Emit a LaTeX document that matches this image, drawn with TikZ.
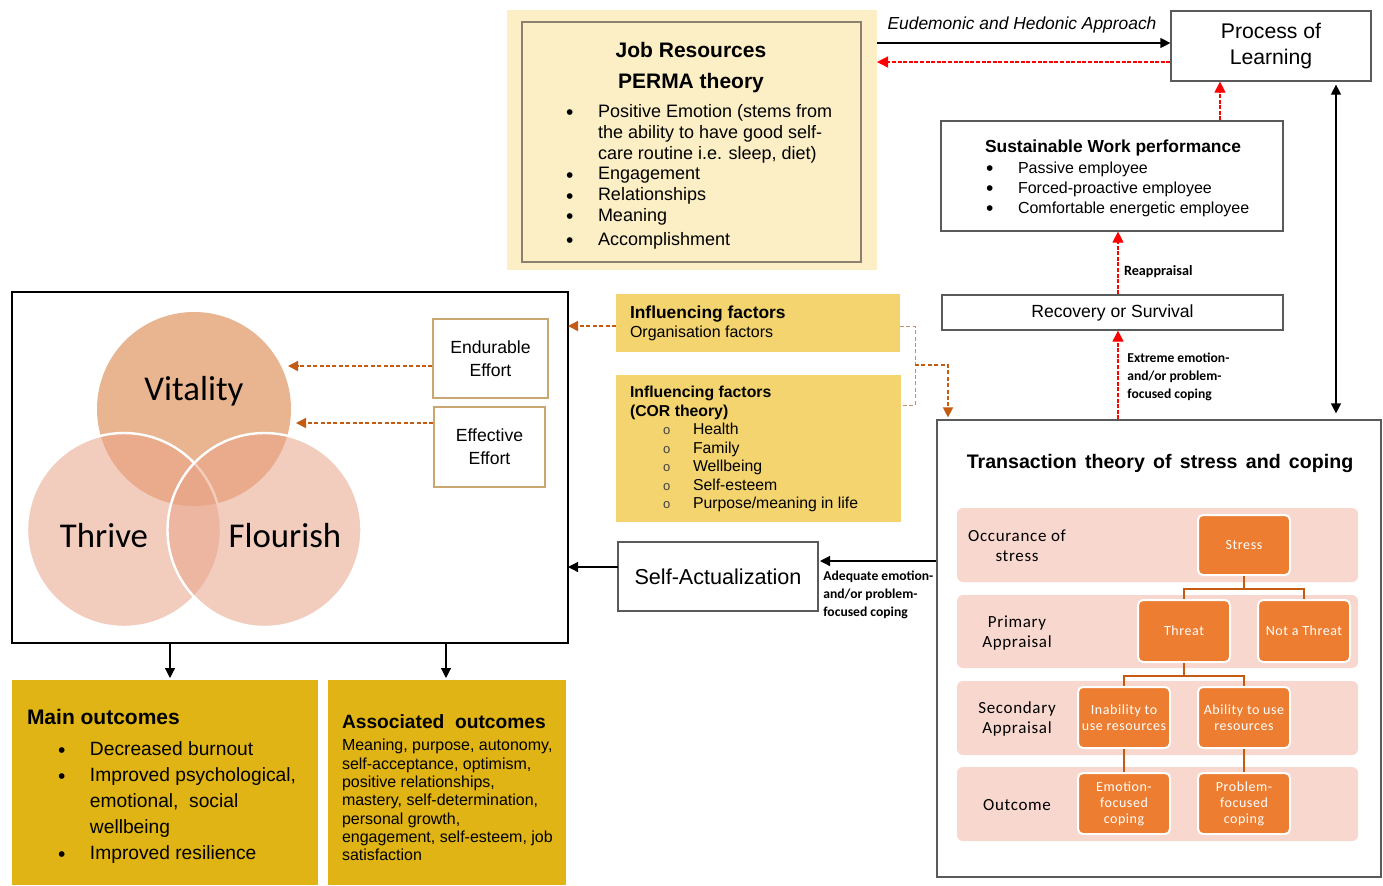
\documentclass[tikz,border=0pt]{standalone}
\usepackage{fontspec}
\setmainfont{Liberation Sans}
\newfontfamily\calib{Carlito}
\newfontfamily\calibsp{Carlito}[LetterSpace=4]
\usetikzlibrary{arrows.meta}
\definecolor{jobfill}{HTML}{FCEFC6}
\definecolor{jobline}{HTML}{8C8070}
\definecolor{gold}{HTML}{F3D46F}
\definecolor{mustard}{HTML}{E0B414}
\definecolor{orng}{HTML}{ED7D31}
\definecolor{pinkrow}{HTML}{F8D8CE}
\definecolor{brn}{HTML}{C55A11}
\definecolor{brlight}{HTML}{C98E6A}
\definecolor{vitc}{HTML}{E9B590}
\definecolor{lowc}{HTML}{E9A48A}
\definecolor{effline}{HTML}{C8A870}
\definecolor{boxgrey}{HTML}{5A5A5A}
\definecolor{redarrow}{HTML}{FF0000}
\newcommand{\bul}{\smash{\raisebox{-1.2pt}{\fontsize{10.5}{10}\selectfont •}}}
\newcommand{\hol}{\hspace*{16.5pt}{\color{black!75}\fontsize{6.5}{6.5}\selectfont o}}
\newcommand{\wsp}{\ \hspace{1.4pt}}
\begin{document}
\begin{tikzpicture}[x=0.5pt,y=-0.5pt,
  box/.style={draw=boxgrey, line width=0.6pt, inner sep=0, fill=white},
  plain/.style={inner sep=0, outer sep=0},
  txt/.style={inner sep=0, outer sep=0},
  blkarr/.style={-{Triangle[length=5pt,width=5pt]}, line width=0.6pt},
  dblarr/.style={{Triangle[length=5pt,width=5pt]}-{Triangle[length=5pt,width=5pt]}, line width=0.6pt},
  redarr/.style={draw=redarrow, dash pattern=on 2pt off 0.8pt, -{Triangle[length=5.5pt,width=5.5pt]}, line width=0.6pt},
  brnarr/.style={draw=brn, dash pattern=on 2pt off 1.2pt, -{Triangle[length=5pt,width=5pt]}, line width=0.7pt},
  brnline/.style={draw=brlight, dash pattern=on 2pt off 1.2pt, line width=0.5pt},
  rowbox/.style={fill=pinkrow, rounded corners=3pt, minimum width=200.5pt, inner sep=0},
  obox/.style={fill=orng, draw=white, line width=1pt, rounded corners=2.5pt, minimum width=46pt, inner sep=0, text=white, align=center, font=\calibsp\fontsize{7}{8}\selectfont},
  rowlab/.style={inner sep=0, align=center, font=\calibsp\fontsize{8.5}{10}\selectfont},
  tree/.style={draw=brn, line width=1.2pt},
  circ/.style={circle, minimum size=97pt, inner sep=0},
  lowcirc/.style={circ, fill=lowc, fill opacity=0.55, draw=white, line width=1.2pt},
  effbox/.style={draw=effline, line width=0.6pt, fill=white, inner sep=0, align=center, font=\fontsize{8.8}{11.5}\selectfont},
  lab/.style={inner sep=0, anchor=north west, font=\calib\bfseries\fontsize{6.8}{9}\selectfont}
]
\useasboundingbox (0,0) rectangle (1383,885);

% ---------- Job resources ----------
\node[plain, fill=jobfill, minimum width=185pt, minimum height=130pt] (jobout) at (692,140) {};
\node[plain, draw=jobline, line width=0.6pt, minimum width=169.5pt, minimum height=120pt] (jobin) at (691.5,142) {};
\node[txt, align=center, font=\fontsize{10.5}{15.5}\selectfont\bfseries] (jobtitle) at (691,68) {Job Resources\\PERMA theory};
\node[txt, anchor=north west, font=\fontsize{9}{10.4}\selectfont] (permal) at (566,103) {\begin{tabular}{@{}p{16pt}@{}l@{}}
\bul & Positive Emotion (stems from\\
 & the ability to have good self-\\
 & care routine i.e. sleep, diet)\\
\bul & Engagement\\
\bul & Relationships\\
\bul & Meaning\\[1.5pt]
\bul & Accomplishment
\end{tabular}};

% ---------- Process of learning ----------
\node[box, minimum width=100pt, minimum height=35pt, align=center, font=\fontsize{10.6}{13}\selectfont] (proc) at (1271,46) {Process of\\Learning};
\coordinate (pl1) at ([yshift=1.5pt]proc.west);
\coordinate (pl2) at ([yshift=-8pt]proc.west);
\draw[blkarr] (pl1 -| jobout.east) -- (pl1);
\draw[redarr] (pl2) -- (pl2 -| jobout.east);
\node[txt, anchor=base, font=\fontsize{8.7}{10}\selectfont\itshape] (eudlab) at (1022,29) {Eudemonic and Hedonic Approach};

% ---------- Sustainable work performance ----------
\node[box, minimum width=171pt, minimum height=55pt] (sust) at (1112,176) {};
\node[txt, anchor=base, font=\fontsize{8.7}{10}\selectfont\bfseries] (susttitle) at (1113,152) {Sustainable Work performance};
\node[txt, anchor=north west, font=\fontsize{8}{10}\selectfont] (sustl) at (986,159) {\begin{tabular}{@{}p{16pt}@{}l@{}}
\bul & Passive employee\\
\bul & Forced-proactive employee\\
\bul & Comfortable energetic employee
\end{tabular}};

% ---------- Recovery ----------
\node[box, minimum width=170.5pt, minimum height=17.5pt, font=\fontsize{8.8}{10}\selectfont] (recov) at (1112.5,312.5) {Recovery or Survival};

% ---------- Transaction theory ----------
\node[box, minimum width=222pt, minimum height=228.5pt] (trans) at (1159,648.5) {};
\node[txt, anchor=base, font=\fontsize{9.8}{11}\selectfont\bfseries] (transtitle) at (1160,468) {Transaction\wsp theory\wsp of\wsp stress\wsp and\wsp coping};

\node[rowbox, minimum height=37pt] (r1) at (1157.5,545) {};
\node[rowbox, minimum height=36.5pt] (r2) at (1157.5,631.5) {};
\node[rowbox, minimum height=37pt] (r3) at (1157.5,718) {};
\node[rowbox, minimum height=37pt] (r4) at (1157.5,804) {};
\node[rowlab] (l1) at (1017,546) {Occurance of\\stress};
\node[rowlab] (l2) at (1017,633) {Primary\\Appraisal};
\node[rowlab] (l3) at (1017,719) {Secondary\\Appraisal};
\node[rowlab] (l4) at (1017,805) {Outcome};

\node[obox, minimum height=30pt] (stress) at (1244,545) {Stress};
\node[obox, minimum height=31pt] (threat) at (1184,631) {Threat};
\node[obox, minimum height=31pt] (nthreat) at (1304,631) {Not a Threat};
\node[obox, minimum height=30.5pt] (inab) at (1124,717.5) {Inability to\\use resources};
\node[obox, minimum height=30.5pt] (abil) at (1244,717.5) {Ability to use\\resources};
\node[obox, minimum height=30.5pt] (emo) at (1124,803.5) {Emotion-\\focused\\coping};
\node[obox, minimum height=30.5pt] (prob) at (1244,803.5) {Problem-\\focused\\coping};

\coordinate (s1) at ([yshift=-6.5pt]stress.south);
\coordinate (t1) at ([yshift=-6.5pt]threat.south);
\draw[tree] (stress.south) -- (s1) -| (threat.north);
\draw[tree] (s1) -| (nthreat.north);
\draw[tree] (threat.south) -- (t1) -| (inab.north);
\draw[tree] (t1) -| (abil.north);
\draw[tree] (inab.south) -- (emo.north);
\draw[tree] (abil.south) -- (prob.north);

% ---------- right side arrows ----------
\coordinate (xa) at (1220,0);
\coordinate (xb) at (1118,0);
\coordinate (xc) at (1336,0);
\draw[redarr] (sust.north -| xa) -- (proc.south -| xa);
\draw[redarr] (recov.north -| xb) -- (sust.south -| xb);
\draw[redarr] (trans.north -| xb) -- (recov.south -| xb);
\draw[dblarr, shorten <=1.5pt, shorten >=3pt] (proc.south -| xc) -- (trans.north -| xc);
\node[txt, anchor=base west, font=\calib\bfseries\fontsize{7.1}{9}\selectfont] (reapp) at (1124,275.5) {Reappraisal};
\node[lab] (extlab) at (1127,349) {\begin{tabular}{@{}l@{}}Extreme emotion-\\and/or problem-\\focused coping\end{tabular}};

% ---------- Influencing factors ----------
\node[plain, fill=gold, minimum width=142pt, minimum height=29pt] (org) at (758,323) {};
\node[txt, anchor=north west, font=\fontsize{8}{9.5}\selectfont] (orgt) at (630,305) {\begin{tabular}{@{}l@{}}{\fontsize{8.7}{9.5}\selectfont\bfseries Influencing factors}\\Organisation factors\end{tabular}};
\node[plain, fill=gold, minimum width=142.5pt, minimum height=73.5pt] (cor) at (758.5,448.5) {};
\node[txt, anchor=north west, font=\fontsize{7.9}{9.25}\selectfont] (cort) at (630,385) {\begin{tabular}{@{}p{31.5pt}@{}l@{}}
\multicolumn{2}{@{}l@{}}{\bfseries Influencing factors}\\
\multicolumn{2}{@{}l@{}}{\bfseries (COR theory)}\\
\hol & Health\\
\hol & Family\\
\hol & Wellbeing\\
\hol & Self-esteem\\
\hol & Purpose/meaning in life
\end{tabular}};
\coordinate (b1) at (915,326);
\coordinate (b2) at (915,405);
\coordinate (bm) at (915,365);
\coordinate (bt) at (948,0);
\draw[brnline] (b1 -| org.east) -- (b1) -- (b2) -- (b2 -| cor.east);
\draw[brnarr, shorten >=1pt] (bm) -| (trans.north -| bt);

% ---------- Big left box ----------
\node[plain, draw=black, line width=1pt, fill=white, minimum width=278pt, minimum height=175.5pt] (big) at (290,467.5) {};
\node[circ, fill=vitc] (vit) at (194,409) {};
\node[lowcirc] (thr) at (124,530) {};
\node[lowcirc] (flo) at (264.5,530) {};
\node[txt, anchor=base, font=\calib\fontsize{17.4}{20}\selectfont] (vitt) at (194,400) {Vitality};
\node[txt, anchor=base, font=\calib\fontsize{17.4}{20}\selectfont] (thrt) at (104,547) {Thrive};
\node[txt, anchor=base, font=\calib\fontsize{17.4}{20}\selectfont] (flot) at (285,547) {Flourish};
\node[effbox, minimum width=57.5pt, minimum height=39.5pt] (endur) at (490.5,358.5) {Endurable\\Effort};
\node[effbox, minimum width=55.5pt, minimum height=40pt] (eff) at (489.5,447) {Effective\\Effort};
\coordinate (ve1) at (288,366);
\coordinate (ve2) at (296,423);
\draw[brnarr] (endur.west |- ve1) -- (ve1);
\draw[brnarr] (eff.west |- ve2) -- (ve2);
\draw[brnarr] (org.west |- b1) -- (big.east |- b1);

% ---------- Self actualization ----------
\node[plain, draw=boxgrey, line width=0.6pt, fill=white, minimum width=100pt, minimum height=34.5pt, font=\fontsize{10.8}{12}\selectfont] (selfact) at (718,576.5) {Self-Actualization};
\coordinate (sa1) at (0,561);
\coordinate (sa2) at (0,567);
\draw[blkarr, shorten >=1pt] (trans.west |- sa1) -- (selfact.east |- sa1);
\draw[blkarr] (selfact.west |- sa2) -- (big.east |- sa2);
\node[lab] (adqlab) at (823,567.5) {\begin{tabular}{@{}l@{}}Adequate emotion-\\and/or problem-\\focused coping\end{tabular}};

% ---------- Outcomes ----------
\node[plain, fill=mustard, minimum width=153pt, minimum height=102.5pt] (mainb) at (165,782.5) {};
\node[plain, fill=mustard, minimum width=119pt, minimum height=102.5pt] (assoc) at (447,782.5) {};
\coordinate (d1) at (170,0);
\coordinate (d2) at (446,0);
\draw[blkarr, shorten >=1pt] (big.south -| d1) -- (mainb.north -| d1);
\draw[blkarr, shorten >=1pt] (big.south -| d2) -- (assoc.north -| d2);
\node[txt, anchor=base west, font=\fontsize{10.5}{12}\selectfont\bfseries] (maint) at (27,724.5) {Main outcomes};
\node[txt, anchor=north west, font=\fontsize{9.6}{13}\selectfont] (mainl) at (58,737) {\begin{tabular}{@{}p{16pt}@{}l@{}}
\bul & Decreased burnout\\
\bul & Improved psychological,\\
 & emotional, \ social\\
 & wellbeing\\
\bul & Improved resilience
\end{tabular}};
\node[txt, anchor=base west, font=\fontsize{9.6}{12}\selectfont\bfseries] (assoct) at (342,728) {Associated \ outcomes};
\node[txt, anchor=north west, font=\fontsize{8}{9.17}\selectfont] (assocl) at (342,738) {\begin{tabular}{@{}l@{}}
Meaning, purpose, autonomy,\\
self-acceptance, optimism,\\
positive relationships,\\
mastery, self-determination,\\
personal growth,\\
engagement, self-esteem, job\\
satisfaction
\end{tabular}};
\end{tikzpicture}
\end{document}
